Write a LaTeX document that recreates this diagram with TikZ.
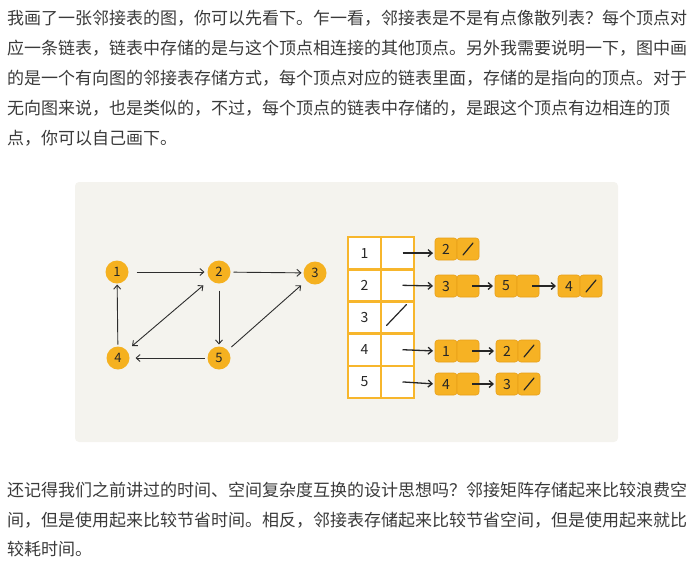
\documentclass[tikz,border=0pt]{standalone}
\usepackage{fontspec}
\newfontfamily\cjk{Noto Sans CJK SC}
\usetikzlibrary{positioning,arrows.meta}
\definecolor{inkgray}{RGB}{58,58,58}
\definecolor{panelgray}{RGB}{244,243,238}
\definecolor{vertexorange}{RGB}{245,177,32}
\definecolor{cellorange}{RGB}{246,178,36}
\definecolor{celledge}{RGB}{232,160,24}
\definecolor{tableorange}{RGB}{247,182,44}
\definecolor{linegray}{RGB}{45,45,45}

\begin{document}
\begin{tikzpicture}[
    x=1pt, y=-1pt,
    para/.style={anchor=west, inner sep=0pt, text=inkgray,
        font=\cjk\fontsize{17}{17}\selectfont},
    vertex/.style={circle, fill=vertexorange, minimum size=23pt,
        inner sep=0pt, outer sep=0pt, text=black!85,
        font=\cjk\fontsize{13}{13}\selectfont},
    tcell/.style={draw=tableorange, line width=2.6pt, fill=white,
        minimum width=33pt, minimum height=32.2pt, inner sep=0pt,
        outer sep=0pt, text=black!85, font=\cjk\fontsize{14}{14}\selectfont},
    lcell/.style={draw=celledge, line width=0.6pt, fill=cellorange,
        rounded corners=3pt, minimum width=22pt, minimum height=22pt,
        inner sep=0pt, outer sep=0pt, text=black!85,
        font=\cjk\fontsize{14}{14}\selectfont},
    barb/.tip={Straight Barb[length=4pt,width=7pt]},
    link/.style={-barb, line width=0.9pt, linegray},
    ptr/.style={-barb, line width=1.3pt, black!85},
    nil/.style={line width=1.2pt, black!85, line cap=round}
]
\useasboundingbox (0,0) rectangle (700,566);

% text above
\node[para] (t1) at (7,18) {我画了一张邻接表的图，你可以先看下。乍一看，邻接表是不是有点像散列表？每个顶点对};
\node[para] (t2) at (7,48) {应一条链表，链表中存储的是与这个顶点相连接的其他顶点。另外我需要说明一下，图中画};
\node[para] (t3) at (7,78) {的是一个有向图的邻接表存储方式，每个顶点对应的链表里面，存储的是指向的顶点。对于};
\node[para] (t4) at (7,108) {无向图来说，也是类似的，不过，每个顶点的链表中存储的，是跟这个顶点有边相连的顶};
\node[para] (t5) at (7,138) {点，你可以自己画下。};

% panel
\fill[panelgray, rounded corners=4pt] (75,182) rectangle (618,442);

% directed graph
\node[vertex] (v1) at (117,272) {1};
\node[vertex] (v2) at (219,272) {2};
\node[vertex] (v3) at (315,273) {3};
\node[vertex] (v4) at (118,358) {4};
\node[vertex] (v5) at (219,358) {5};

\draw[link, shorten <=8pt, shorten >=3pt] (v1) -- (v2);
\draw[link, shorten <=3pt, shorten >=2pt] (v2) -- (v3);
\draw[link, shorten <=7pt, shorten >=2pt] (v2) -- (v5);
\draw[link, shorten <=3pt, shorten >=6pt] (v5) -- (v4);
\draw[link, shorten <=2pt, shorten >=1pt] (v4) -- (v1);
\draw[link, barb-barb, shorten <=7pt, shorten >=9pt] (v4) -- (v2);
\draw[link, shorten <=5pt, shorten >=7pt] (v5) -- (v3);

% adjacency table
\node[tcell] (k1) at (364.5,253.1) {1};
\node[tcell, right=0pt of k1] (p1) {};
\node[tcell, below=0pt of k1] (k2) {2};
\node[tcell, right=0pt of k2] (p2) {};
\node[tcell, below=0pt of k2] (k3) {3};
\node[tcell, right=0pt of k3] (p3) {};
\node[tcell, below=0pt of k3] (k4) {4};
\node[tcell, right=0pt of k4] (p4) {};
\node[tcell, below=0pt of k4] (k5) {5};
\node[tcell, right=0pt of k5] (p5) {};
\draw[nil] ([shift={(-11,8)}]p3.center) -- ([shift={(9,-13)}]p3.center);

% linked lists
\node[lcell] (a1) at (446,249) {2};
\node[lcell, right=0pt of a1] (a1n) {};

\node[lcell] (b1) at (446,286) {3};
\node[lcell, right=0pt of b1] (b1n) {};
\node[lcell, right=16pt of b1n] (b2) {5};
\node[lcell, right=0pt of b2] (b2n) {};
\node[lcell, right=19pt of b2n] (b3) {4};
\node[lcell, right=0pt of b3] (b3n) {};

\node[lcell] (d1) at (446,351) {1};
\node[lcell, right=0pt of d1] (d1n) {};
\node[lcell, right=17pt of d1n] (d2) {2};
\node[lcell, right=0pt of d2] (d2n) {};

\node[lcell] (e1) at (446,384) {4};
\node[lcell, right=0pt of e1] (e1n) {};
\node[lcell, right=17pt of e1n] (e2) {3};
\node[lcell, right=0pt of e2] (e2n) {};

\draw[nil] ([shift={(-5,6)}]a1n.center) -- ([shift={(5,-6)}]a1n.center);
\draw[nil] ([shift={(-5,6)}]b3n.center) -- ([shift={(5,-6)}]b3n.center);
\draw[nil] ([shift={(-5,6)}]d2n.center) -- ([shift={(5,-6)}]d2n.center);
\draw[nil] ([shift={(-5,6)}]e2n.center) -- ([shift={(5,-6)}]e2n.center);

\draw[ptr, shorten >=2pt] ([xshift=5pt]p1.center) -- (a1.west |- p1.center);
\draw[ptr, shorten >=2pt] ([xshift=5pt]p2.center) -- (b1.west);
\draw[ptr, shorten >=2pt] ([xshift=5pt]p4.center) -- (d1.west);
\draw[ptr, shorten >=2pt] ([xshift=5pt]p5.center) -- (e1.west);
\draw[ptr, shorten >=2pt] ([xshift=4pt]b1n.center) -- (b2.west);
\draw[ptr, shorten >=2pt] ([xshift=4pt]b2n.center) -- (b3.west);
\draw[ptr, shorten >=2pt] ([xshift=4pt]d1n.center) -- (d2.west);
\draw[ptr, shorten >=2pt] ([xshift=4pt]e1n.center) -- (e2.west);

% text below
\node[para] (u1) at (7,490) {还记得我们之前讲过的时间、空间复杂度互换的设计思想吗？邻接矩阵存储起来比较浪费空};
\node[para] (u2) at (7,520) {间，但是使用起来比较节省时间。相反，邻接表存储起来比较节省空间，但是使用起来就比};
\node[para] (u3) at (7,549) {较耗时间。};
\end{tikzpicture}
\end{document}
